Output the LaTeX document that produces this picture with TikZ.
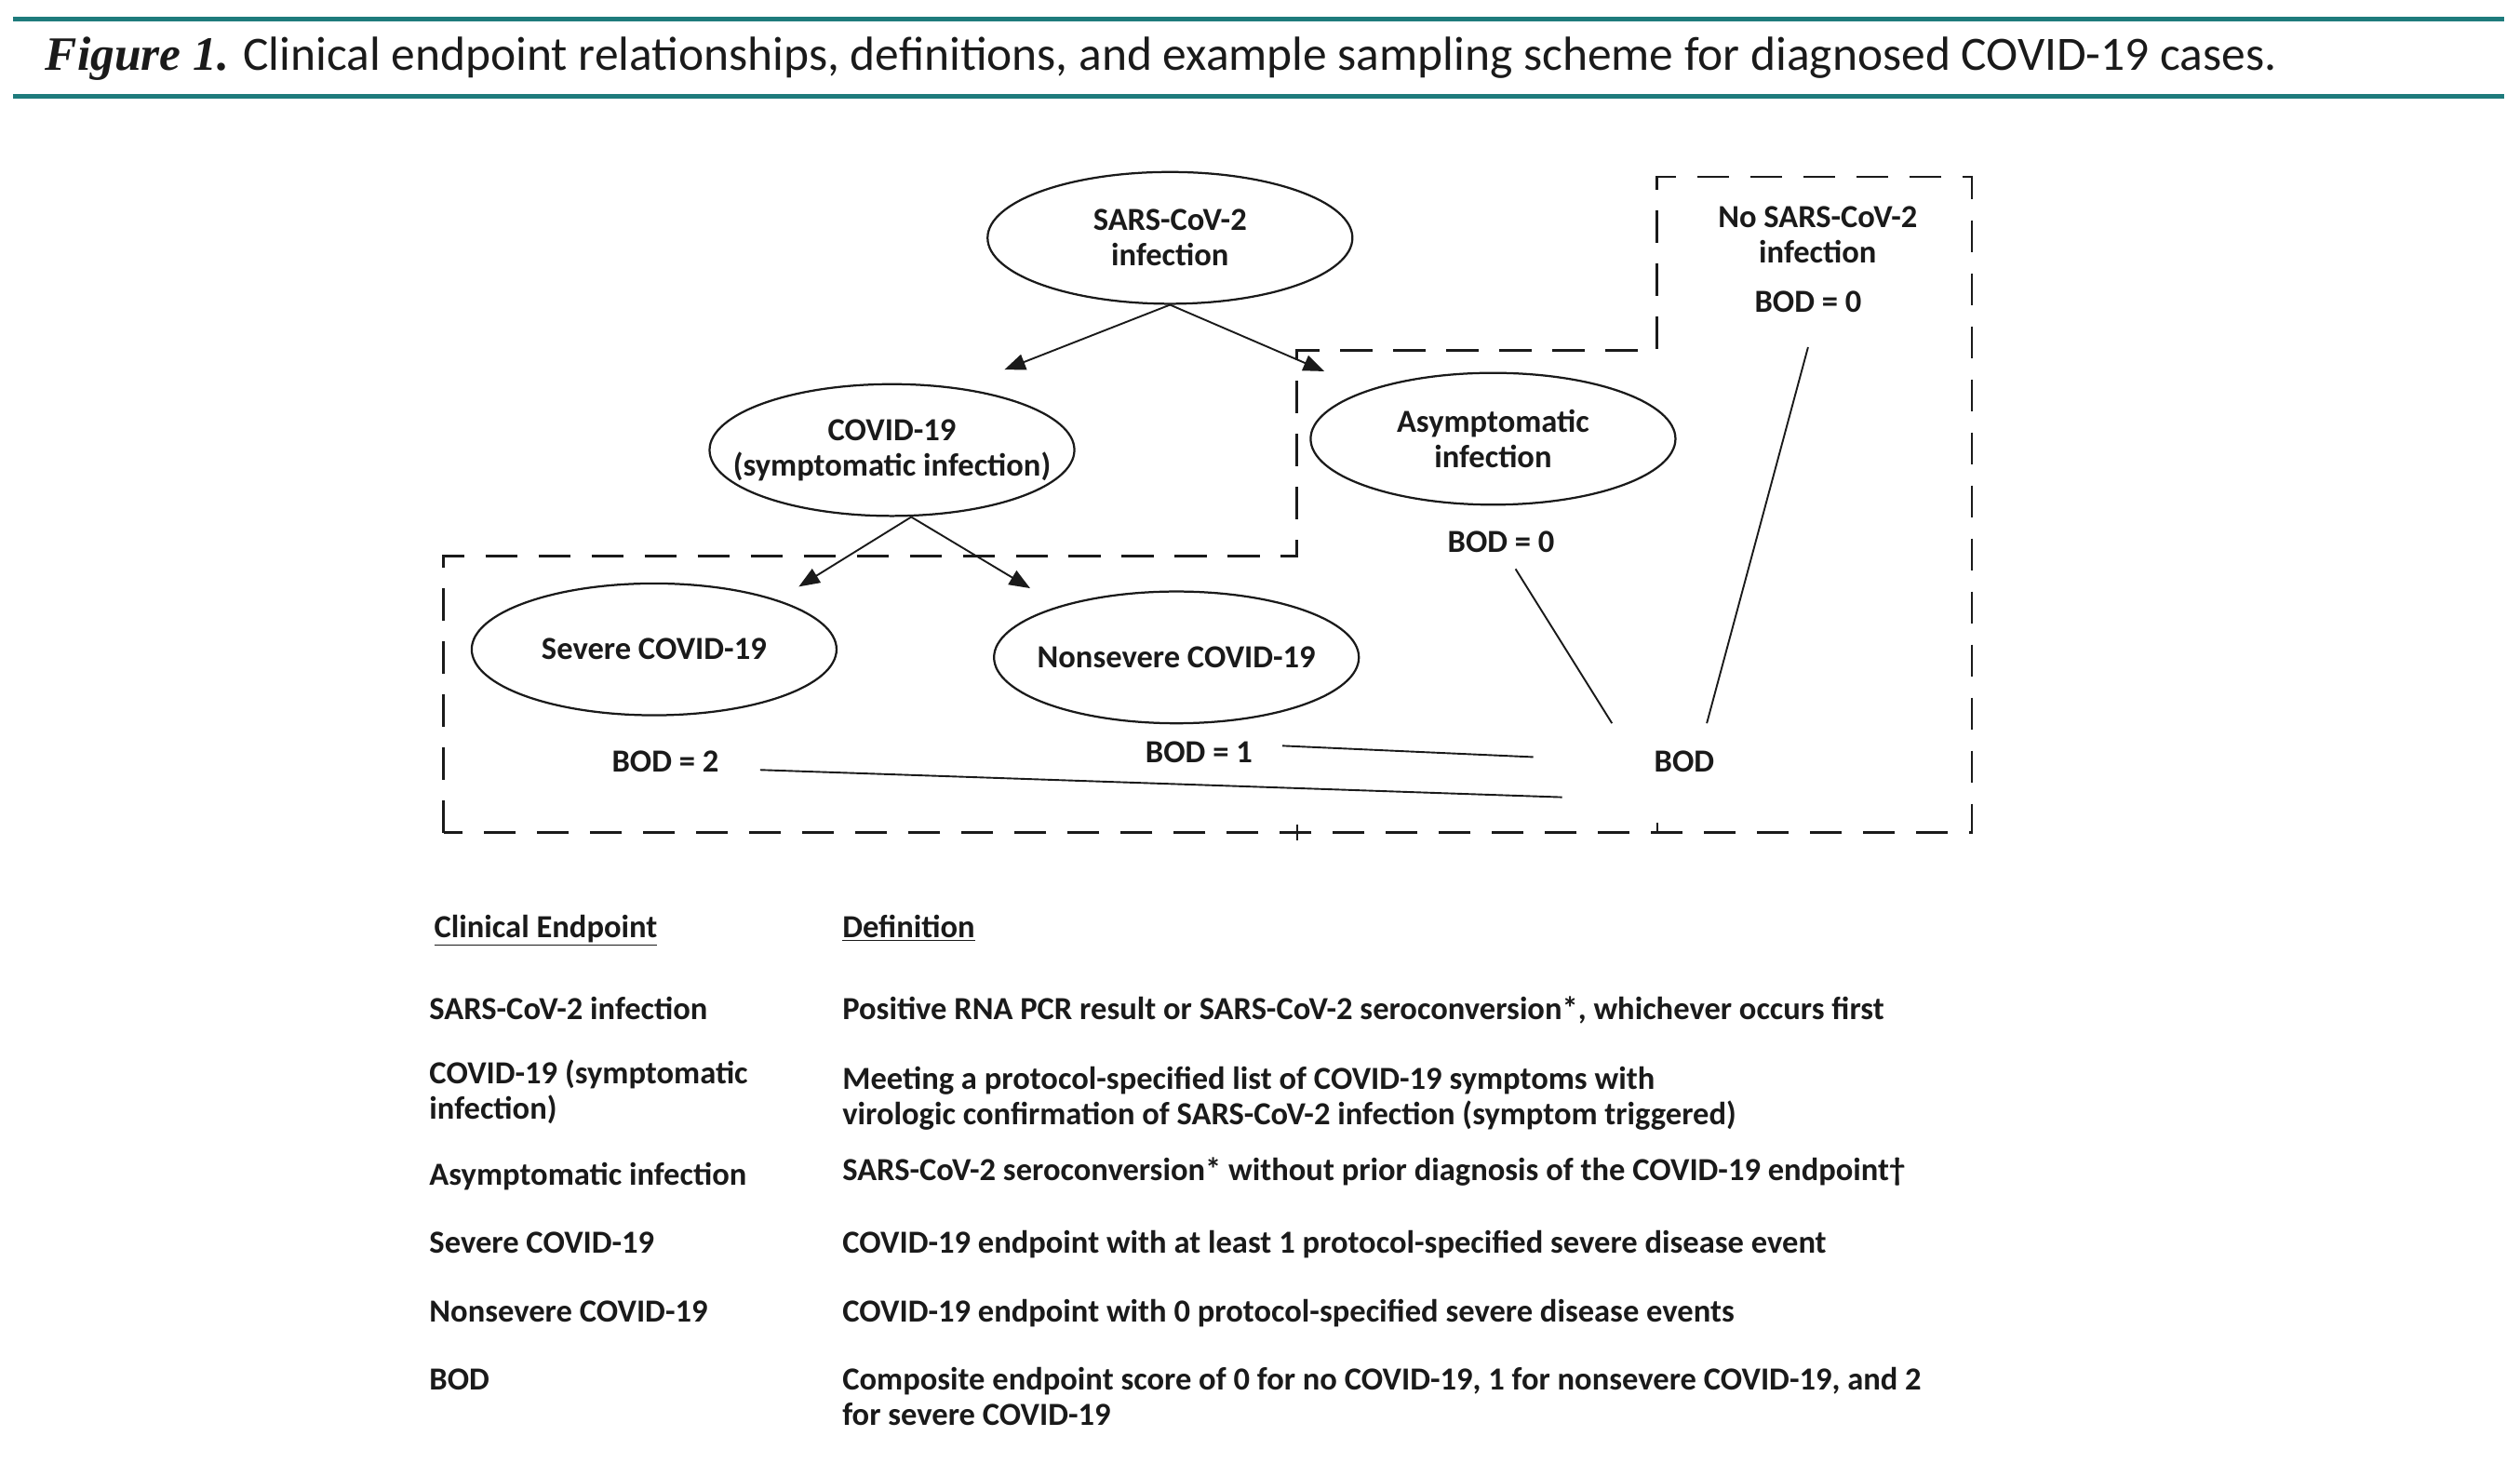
\documentclass[tikz,border=0pt]{standalone}
\usepackage{fontspec}
\setmainfont{Carlito}
\newfontfamily\figfont{Liberation Serif}
\usetikzlibrary{shapes.geometric,arrows.meta}
\definecolor{tealrule}{HTML}{1E7B7C}
\definecolor{ink}{HTML}{1A1A1A}
\begin{document}
\begin{tikzpicture}[x=1pt,y=-1pt,
  font=\bfseries\fontsize{20}{22}\selectfont,
  text=ink,
  ell/.style={draw=ink, ellipse, line width=1.3pt, minimum width=227pt, minimum height=82pt, inner xsep=-40pt, inner ysep=0pt, align=center},
  lab/.style={inner sep=0pt, align=center},
  arr/.style={draw=ink, -{Triangle[length=13pt,width=10pt]}, line width=1.1pt},
  bodline/.style={draw=ink, line width=1.1pt},
  dashbox/.style={draw=ink, dash pattern=on 20pt off 13pt, line width=1.6pt},
  rulel/.style={tealrule, line width=2.6pt},
  cell/.style={anchor=base west, inner sep=0pt}]
\useasboundingbox (0,0) rectangle (1568,910.2);

% title
\draw[rulel] (8,12) -- (1558,12);
\draw[rulel] (8,60) -- (1558,60);
\node[cell, font=\mdseries\fontsize{29.8}{32}\selectfont] (title) at (28,44)
  {{\figfont\bfseries\itshape Figure 1.} Clinical endpoint relationships, definitions, and example sampling scheme for diagnosed COVID-19 cases.};

% dashed regions
\draw[dashbox] (276,518) -- (276,346) -- (807,346) -- (807,218) -- (1031,218) -- (1031,110) -- (1227,110) -- (1227,518) -- cycle;
\draw[bodline] (807,513) -- (807,523);
\draw[bodline] (1031,512) -- (1031,518);

% ellipses
\node[ell] (sars) at (728,148) {SARS-CoV-2\\infection};
\node[ell] (covid) at (555,280) {COVID-19\\(symptomatic infection)};
\node[ell] (asym) at (929,273) {Asymptomatic\\infection};
\node[ell] (severe) at (407,404) {Severe COVID-19};
\node[ell] (nonsev) at (732,409) {Nonsevere COVID-19};

% labels
\node[lab] (nosars) at (1131,146) {No SARS-CoV-2\\infection};
\node[lab] (bodn) at (1125,188) {BOD = 0};
\node[lab] (boda) at (934,337) {BOD = 0};
\node[lab] (bodtwo) at (414,474) {BOD = 2};
\node[lab] (bodone) at (746,468) {BOD = 1};
\node[lab] (bod) at (1048,474) {BOD};

% arrows
\coordinate (tcov) at (625,230);
\coordinate (tasym) at (824,231);
\coordinate (tsev) at (497,365);
\coordinate (tnon) at (641,366);
\draw[arr] (sars.south) -- (tcov);
\draw[arr] (sars.south) -- (tasym);
\draw[arr] ([xshift=12pt]covid.south) -- (tsev);
\draw[arr] ([xshift=12pt]covid.south) -- (tnon);

% lines to BOD
\coordinate (la1) at (943,354); \coordinate (la2) at (1003,450);
\coordinate (lb1) at (1125,216); \coordinate (lb2) at (1062,450);
\coordinate (lc1) at (798,464); \coordinate (lc2) at (954,471);
\coordinate (ld1) at (473,479); \coordinate (ld2) at (972,496);
\draw[bodline] (la1) -- (la2);
\draw[bodline] (lb1) -- (lb2);
\draw[bodline] (lc1) -- (lc2);
\draw[bodline] (ld1) -- (ld2);

% table
\node[cell] (hA) at (270,583.5) {\underline{Clinical Endpoint}};
\node[cell] (hB) at (524,583.5) {\underline{Definition}};

\node[cell] (r1a) at (267,634.5) {SARS-CoV-2 infection};
\node[cell] (r1b) at (524,634.5) {Positive RNA PCR result or SARS-CoV-2 seroconversion*, whichever occurs first};

\node[cell] (r2a) at (267,674.5) {COVID-19 (symptomatic};
\node[cell] (r2a2) at (267,696.5) {infection)};
\node[cell] (r2b) at (524,677.5) {Meeting a protocol-specified list of COVID-19 symptoms with};
\node[cell] (r2b2) at (524,699.5) {virologic confirmation of SARS-CoV-2 infection (symptom triggered)};

\node[cell] (r3a) at (267,737.5) {Asymptomatic infection};
\node[cell] (r3b) at (524,734.5) {SARS-CoV-2 seroconversion* without prior diagnosis of the COVID-19 endpoint†};

\node[cell] (r4a) at (267,779.5) {Severe COVID-19};
\node[cell] (r4b) at (524,779.5) {COVID-19 endpoint with at least 1 protocol-specified severe disease event};

\node[cell] (r5a) at (267,822.5) {Nonsevere COVID-19};
\node[cell] (r5b) at (524,822.5) {COVID-19 endpoint with 0 protocol-specified severe disease events};

\node[cell] (r6a) at (267,864.5) {BOD};
\node[cell] (r6b) at (524,864.5) {Composite endpoint score of 0 for no COVID-19, 1 for nonsevere COVID-19, and 2};
\node[cell] (r6b2) at (524,886.5) {for severe COVID-19};
\end{tikzpicture}
\end{document}
